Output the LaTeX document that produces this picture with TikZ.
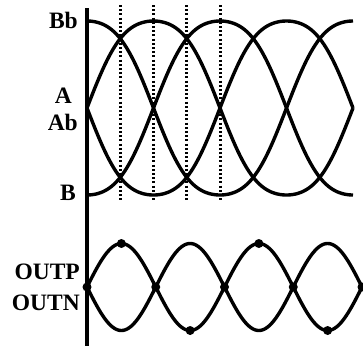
\documentclass[tikz,border=0pt]{standalone}
\usepackage{fontspec}
\setmainfont{Liberation Serif}

\begin{document}
\begin{tikzpicture}[x=1pt,y=-1pt,
  wave/.style={line width=3.4pt,line join=round},
  guide/.style={line width=3pt,dash pattern=on 2pt off 2.2pt},
  lbl/.style={font=\fontsize{23.5}{26}\selectfont\bfseries,inner sep=0pt,anchor=east},
  blob/.style={circle,fill=black,inner sep=0pt,minimum size=9pt}]
  \useasboundingbox (0,0) rectangle (363,346);
  \draw[line width=3.4pt] (87,8) -- (87,346);
  % quadrature inputs
  \foreach \ph/\sg in {0/1,0/-1,90/1,90/-1}{
    \draw[wave] plot[domain=0:360,samples=121,variable=\t]
      ({87+\t/90*66.5},{108-\sg*87*(sin(\t+\ph)+0.06*sin(3*(\t+\ph)))/0.94});
  }
  \foreach \k in {1,...,4}{
    \draw[guide] ({87+\k*33.25},5) -- ({87+\k*33.25},202);
  }
  \node[lbl] (bb) at (78,20) {Bb};
  \node[lbl] (a) at (72,96) {A};
  \node[lbl] (ab) at (78,122) {Ab};
  \node[lbl] (b) at (76,193) {B};
  % outputs
  \foreach \sg in {1,-1}{
    \draw[wave] plot[domain=0:720,samples=161,variable=\t]
      ({87+\t/180*68.75},{287-\sg*43.5*sin(\t)});
  }
  \foreach \k in {0,...,4}{
    \node[blob] (x\k) at ({87+\k*68.75},287) {};
  }
  \foreach \k/\y in {1/243.5,2/330.5,3/243.5,4/330.5}{
    \node[blob] (p\k) at ({87+(\k-0.5)*68.75},\y) {};
  }
  \node[lbl] (outp) at (80,272) {OUTP};
  \node[lbl] (outn) at (80,303) {OUTN};
\end{tikzpicture}
\end{document}
